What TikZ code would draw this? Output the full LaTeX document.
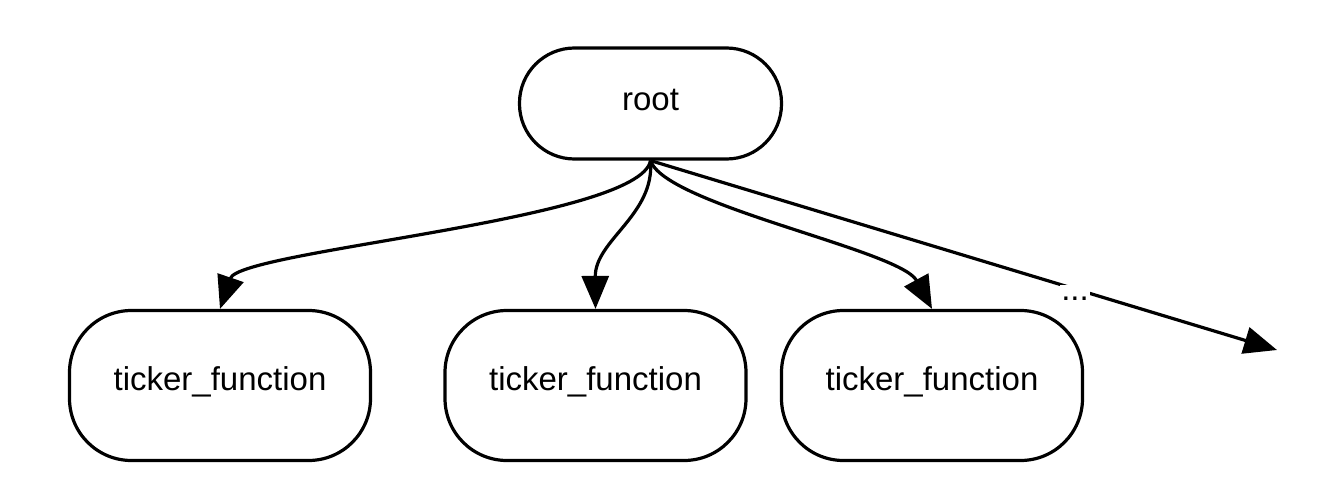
\documentclass[tikz,border=0pt]{standalone}
\usepackage{fontspec}
\setmainfont{Liberation Sans}
\usetikzlibrary{arrows.meta}
\tikzset{
  boxnode/.style={draw=black, line width=3.2pt, rounded corners=#1, inner sep=0pt,
    font=\fontsize{33}{38}\selectfont},
  rootnode/.style={boxnode=55pt, minimum width=262pt, minimum height=111pt,
    text height=24pt, text depth=11pt},
  tickernode/.style={boxnode=62pt, minimum width=301pt, minimum height=150pt,
    text height=24pt, text depth=15pt},
  edge/.style={line width=3.2pt, -{Triangle[length=33pt,width=27pt]}},
  dotlabel/.style={fill=white, inner sep=1pt, text height=14pt, text depth=1pt,
    font=\fontsize{33}{38}\selectfont}
}
\begin{document}
\begin{tikzpicture}[x=1pt,y=-1pt]
\useasboundingbox (0,0) rectangle (1329,495);
\node[rootnode] (root) at (650.5,103.5) {root};
\node[tickernode] (t1) at (220,385.5) {ticker\_function};
\node[tickernode] (t2) at (595.5,385.5) {ticker\_function};
\node[tickernode] (t3) at (932,385.5) {ticker\_function};
\coordinate (more) at (1277,350);
\draw[edge] (root.south) .. controls (640,220) and (240,250) .. (t1.north);
\draw[edge] (root.south) .. controls (655,215) and (595,240) .. (t2.north);
\draw[edge] (root.south) .. controls (665,205) and (900,250) .. (t3.north);
\draw[edge] (root.south) -- (more);
\node[dotlabel, anchor=base] (dots) at (1075,300) {...};
\end{tikzpicture}
\end{document}
